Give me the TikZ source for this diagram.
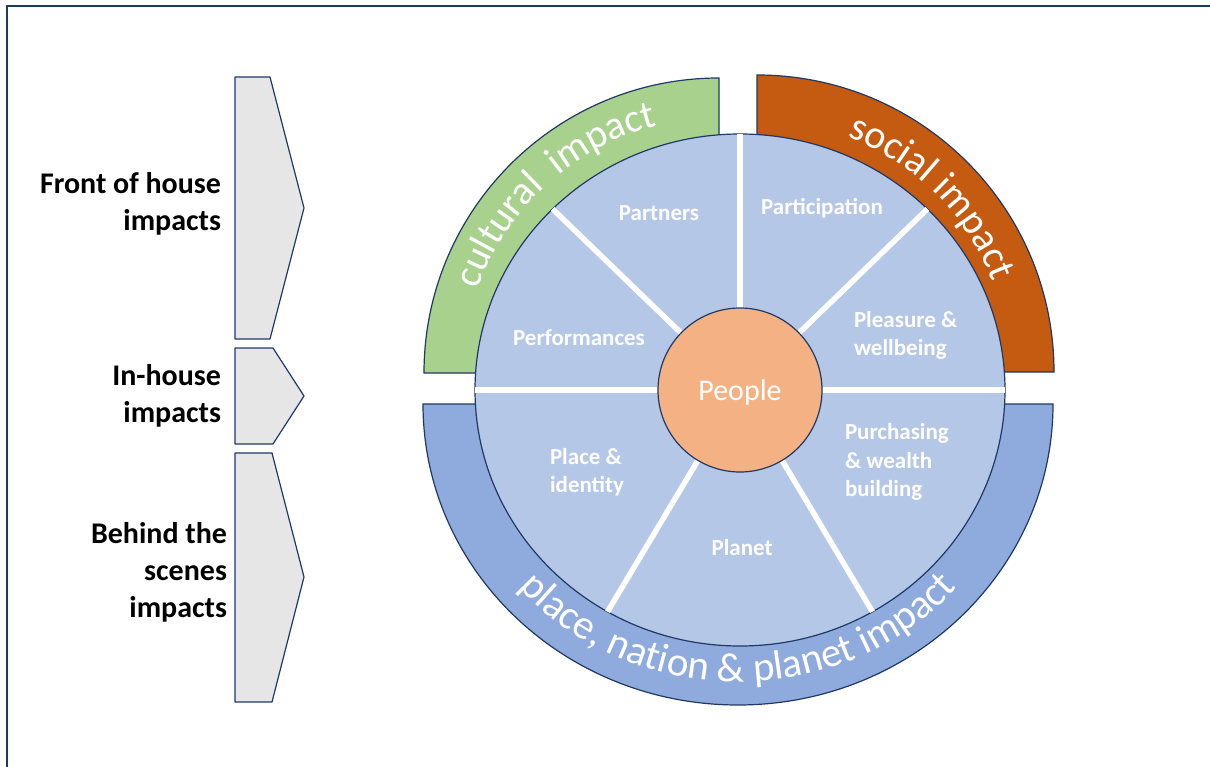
\documentclass[tikz,border=0pt]{standalone}
\usepackage{fontspec}
\setmainfont{Carlito}
\usepackage{xcolor}
\usepackage{tikz}
\usetikzlibrary{positioning}
\usetikzlibrary{decorations.text}
\definecolor{navy}{HTML}{1F3864}
\definecolor{discblue}{HTML}{B4C7E7}
\definecolor{placeblue}{HTML}{8FAADC}
\definecolor{culturegreen}{HTML}{A9D18E}
\definecolor{socialorange}{HTML}{C55A11}
\definecolor{peach}{HTML}{F4B183}
\definecolor{tabgrey}{HTML}{E7E6E6}
\newcommand{\ringfont}{\fontsize{40}{48}\selectfont}
\newcommand{\segfont}{\bfseries\fontsize{23}{28.5}\selectfont}
\newcommand{\sidefont}{\bfseries\fontsize{30}{37}\selectfont}

\begin{document}
\begin{tikzpicture}[x=1pt,y=1pt,every node/.style={inner sep=0,outer sep=0},
    seg/.style={font=\segfont,text=white,align=left},
    side/.style={font=\sidefont,align=right},
    tab/.style={draw=navy,line width=1.2pt,fill=tabgrey,line join=round},
    ring/.style={draw=navy,line width=1.2pt},
    divider/.style={white,line width=5.5pt},
    ringtext/.style={decorate,decoration={text along path,text align=center,text color=white}}]
    \useasboundingbox (0,0) rectangle (1210,-767);
    \draw[navy,line width=2pt] (7,-767) |- (1210,-6.5);

    % the three tabs on the left
    \draw[tab] (235,-77) -- (270,-77) -- (304,-208) -- (270,-339) -- (235,-339) -- cycle;
    \draw[tab] (235,-348) -- (273,-348) -- (304,-396) -- (273,-444) -- (235,-444) -- cycle;
    \draw[tab] (235,-453) -- (272,-453) -- (304,-577) -- (272,-702) -- (235,-702) -- cycle;
    \coordinate (T1) at (235,-204);
    \coordinate (T2) at (235,-396);
    \coordinate (T3) at (235,-572.5);
    \node (L1) [side,left=14pt of T1] {Front of house\\impacts};
    \node (L2) [side,left=14pt of T2] {In-house\\impacts};
    \node (L3) [side,left=8pt of T3] {Behind the\\scenes\\impacts};

    % outer rings (inner parts are covered by the disc)
    \draw[ring,fill=culturegreen] (719,-373) -- ++(-295,0) arc[start angle=180,end angle=90,radius=295] -- cycle;
    \draw[ring,fill=socialorange] (757,-372) -- ++(0,297) arc[start angle=90,end angle=0,radius=297] -- cycle;
    \draw[ring,fill=placeblue] (738,-404) -- ++(-315,0) arc[start angle=180,end angle=360,x radius=315,y radius=301] -- cycle;
    \path[ringtext,decoration={text={|\ringfont|cultural{\hspace{9pt}} impact}}]
        (719,-373) ++(175:255) arc[start angle=175,end angle=90,radius=255];
    \path[ringtext,decoration={text={|\ringfont|social impact}}]
        (757,-372) ++(90:252) arc[start angle=90,end angle=0,radius=252];
    \path[ringtext,decoration={text={|\fontsize{41}{48}\selectfont|place, nation {\&} planet impact}}]
        (738,-404) ++(200:292 and 278) arc[start angle=200,end angle=340,x radius=292,y radius=278];

    % main disc and its seven sectors
    \coordinate (hub) at (740,-390);
    \draw[ring,fill=discblue] (hub) ellipse[x radius=265,y radius=256];
    \foreach \a in {0,45,90,135,180,240,300}
        \draw[divider] (hub) -- ++(\a:265 and 256);
    \node (P0) [circle,draw=navy,line width=1.2pt,fill=peach,minimum size=164pt,
        text=white,text depth=0pt,font=\fontsize{30}{36}\selectfont] at (hub) {People};

    \node (S1) [seg] at (659,-213.5) {Partners};
    \node (S2) [seg] at (822,-208) {Participation};
    \node (S3) [seg,anchor=west] at (854,-335.5) {Pleasure \&\\wellbeing};
    \node (S4) [seg] at (579,-338) {Performances};
    \node (S5) [seg,anchor=west] at (550,-472) {Place \&\\identity};
    \node (S6) [seg] at (742,-548) {Planet};
    \node (S7) [seg,anchor=west] at (845,-462) {Purchasing\\\& wealth\\building};
\end{tikzpicture}
\end{document}
